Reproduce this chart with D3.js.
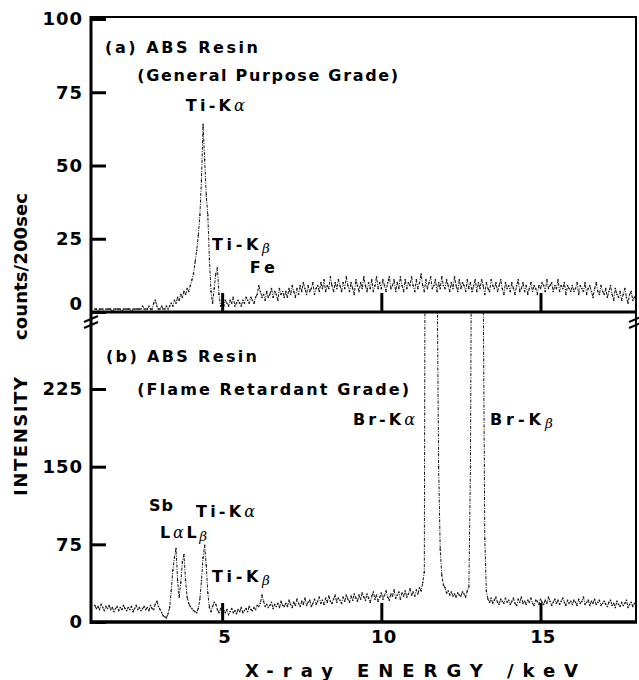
<!DOCTYPE html>
<html>
<head>
<meta charset="utf-8">
<script src="https://cdn.jsdelivr.net/npm/d3@7"></script>
<style>
  body { margin: 0; background: #fff; }
  svg { display: block; font-family: "DejaVu Sans", "Liberation Sans", Arial, sans-serif; font-weight: bold; }
</style>
</head>
<body>
<svg id="chart" width="639" height="680"></svg>
<script>
// spectra are recorded per channel, 0.05 keV wide, first channel at 1.0 keV
const energyStart = 1.0;
const energyStep = 0.05;

// (a) general purpose grade, counts/200sec
const countsA = [
  1,1,0,1,1,1,0,1,1,1, 1,0,1,1,1,1,1,0,1,1,
  1,1,1,0,1,1,1,1,1,1, 2,1,1,1,2,1,1,3,4,2,
  1,1,2,1,1,2,1,2,3,2, 4,3,5,4,6,5,7,6,8,7,
  9,11,13,17,21,26,33,45,64,52, 40,33,18,7,3,8,13,15,6,2,
  3,2,4,3,2,4,3,5,2,3, 4,3,2,4,3,5,4,3,5,4,
  3,5,6,9,7,5,6,4,7,5, 6,8,5,7,6,4,8,6,7,5,
  7,5,8,6,9,7,5,8,6,9, 7,10,8,6,9,7,8,10,6,8,
  9,7,10,8,11,7,9,8,12,9, 7,10,8,11,9,7,10,8,12,9,
  7,10,8,6,11,9,7,10,8,12, 9,7,10,8,11,7,9,12,8,10,
  8,11,9,7,10,12,8,9,11,7, 10,8,12,9,7,11,8,10,9,12,
  9,7,11,8,10,13,9,7,11,8, 10,12,8,9,11,7,10,8,12,9,
  8,11,9,7,10,8,12,9,7,11, 8,10,9,7,11,8,10,7,9,11,
  7,10,8,11,9,6,10,8,7,11, 9,8,10,7,9,11,8,6,10,8,
  9,7,10,8,6,9,11,7,8,10, 7,9,6,8,10,7,9,8,6,9,
  8,10,9,7,11,8,9,10,7,9, 8,11,7,9,8,10,6,9,8,7,
  9,7,8,10,6,9,8,7,10,6, 8,9,7,5,8,10,7,6,9,7,
  6,8,5,7,9,6,4,8,6,5, 7,4,6,8,5,3,6,7,4,5,
  6
];

// (b) flame retardant grade, counts/200sec (Br peaks run off scale)
const countsB = [
  16,13,15,12,17,14,11,15,13,16, 12,14,10,13,15,11,14,12,16,13,
  11,14,12,15,10,13,16,12,14,11, 13,15,12,14,11,16,13,12,17,20,
  15,12,9,6,5,4,8,14,30,50, 62,71,40,24,38,58,65,40,24,18,
  15,13,11,10,9,13,22,40,62,74, 55,28,14,10,15,19,17,12,9,13,
  8,11,9,12,7,10,13,9,11,8, 12,10,14,9,11,13,10,15,12,11,
  14,12,16,15,18,26,20,15,17,14, 16,19,13,17,15,18,14,20,16,15,
  18,15,21,17,14,19,16,22,18,15, 20,17,23,16,19,21,15,18,22,17,
  20,24,18,21,17,23,19,25,20,18, 22,26,19,23,21,18,24,20,26,22,
  19,25,21,27,23,20,26,22,28,24, 21,27,23,19,25,29,22,26,20,24,
  28,22,26,30,24,21,27,25,31,23, 26,29,22,28,25,30,24,27,32,26,
  29,25,31,27,33,30,38,48,700,1500, 1800,1700,1300,900,600,350,150,70,45,36,
  33,28,30,26,29,25,27,24,28,26, 25,29,27,24,30,34,150,500,900,1100,
  1000,800,600,420,330,80,30,22,19,23, 18,21,24,19,17,22,20,18,23,19,
  21,17,20,23,18,16,22,19,24,18, 20,17,21,19,23,18,16,21,20,17,
  22,19,17,21,18,24,20,16,19,22, 18,21,17,20,23,19,16,21,18,20,
  17,21,19,16,22,18,20,24,17,19, 21,16,20,18,22,17,19,21,16,18,
  20,17,15,19,21,16,18,14,20,17, 15,19,16,18,21,14,17,19,15,18,
  16
];

const ticksA = [0, 25, 50, 75, 100];
const ticksB = [0, 75, 150, 225];
const energyTicks = [5, 10, 15];

const svg = d3.select('#chart');

const left = 91, right = 636;
const x = d3.scaleLinear().domain([0.88, 18.0]).range([left, right]);
const yA = d3.scaleLinear().domain([0, 100]).range([312, 19]);
const yB = d3.scaleLinear().domain([0, 225]).range([622, 389]);

const toPoints = counts => counts.map((c, i) => ({ e: energyStart + i * energyStep, c }));

// clip regions for the two panels
const defs = svg.append('defs');
defs.append('clipPath').attr('id', 'clipA').append('rect')
  .attr('x', left).attr('y', 17).attr('width', right - left).attr('height', 312 - 17);
defs.append('clipPath').attr('id', 'clipB').append('rect')
  .attr('x', left).attr('y', 313).attr('width', right - left).attr('height', 622 - 313);

function drawSpectrum(points, yScale, clipId) {
  const g = svg.append('g').attr('clip-path', `url(#${clipId})`);
  const line = d3.line().x(d => x(d.e)).y(d => yScale(d.c));
  g.append('path')
    .datum(points)
    .attr('fill', 'none')
    .attr('stroke', '#111')
    .attr('stroke-width', 1)
    .attr('stroke-dasharray', '3,1.3,1,1.3')
    .attr('d', line);
  g.selectAll('rect.pt')
    .data(points)
    .join('rect')
    .attr('class', 'pt')
    .attr('x', d => x(d.e) - 0.7)
    .attr('y', d => yScale(d.c) - 0.7)
    .attr('width', 1.4)
    .attr('height', 1.4)
    .attr('fill', '#111');
}

drawSpectrum(toPoints(countsA), yA, 'clipA');
drawSpectrum(toPoints(countsB), yB, 'clipB');

// axes
function styleAxis(g, size, spacing) {
  g.select('.domain').remove();
  g.selectAll('.tick line').attr('stroke', '#000').attr('stroke-width', 3);
  g.selectAll('.tick text')
    .attr('fill', '#000')
    .style('font-family', '"DejaVu Sans", "Liberation Sans", Arial, sans-serif')
    .style('font-weight', 'bold')
    .style('font-size', size + 'px')
    .style('letter-spacing', spacing + 'px');
}

const axA = svg.append('g').attr('transform', `translate(${left},0)`)
  .call(d3.axisLeft(yA).tickValues(ticksA).tickSizeInner(-15).tickSizeOuter(0).tickPadding(8));
styleAxis(axA, 18, 1);
axA.selectAll('.tick').filter(d => d === 0).select('text').attr('dy', '-0.12em');

const axB = svg.append('g').attr('transform', `translate(${left},0)`)
  .call(d3.axisLeft(yB).tickValues(ticksB).tickSizeInner(-15).tickSizeOuter(0).tickPadding(8));
styleAxis(axB, 18, 1);

const axXA = svg.append('g').attr('transform', 'translate(0,312)')
  .call(d3.axisBottom(x).tickValues(energyTicks).tickSizeInner(-19).tickSizeOuter(0).tickFormat(''));
styleAxis(axXA, 18, 0);

const axXB = svg.append('g').attr('transform', 'translate(0,622)')
  .call(d3.axisBottom(x).tickValues(energyTicks).tickSizeInner(-19).tickSizeOuter(0).tickPadding(8));
styleAxis(axXB, 18, 0);
axXB.selectAll('.tick text').attr('dx', '0.1em');

// frame
const frame = svg.append('g').attr('stroke', '#000').attr('fill', 'none');
frame.append('line').attr('x1', left).attr('y1', 16).attr('x2', left).attr('y2', 624).attr('stroke-width', 3);
frame.append('line').attr('x1', left).attr('y1', 17).attr('x2', right + 1).attr('y2', 17).attr('stroke-width', 2);
frame.append('line').attr('x1', right).attr('y1', 17).attr('x2', right).attr('y2', 622).attr('stroke-width', 2);
frame.append('line').attr('x1', left).attr('y1', yA(0)).attr('x2', right + 1).attr('y2', yA(0)).attr('stroke-width', 3);
frame.append('line').attr('x1', left).attr('y1', yB(0)).attr('x2', right + 1).attr('y2', yB(0)).attr('stroke-width', 3.5);

// axis break marks between the panels
[left, right].forEach(bx => {
  [-3, 3].forEach(off => {
    frame.append('line')
      .attr('x1', bx - 7).attr('y1', 322 + off + 3)
      .attr('x2', bx + 7).attr('y2', 322 + off - 3)
      .attr('stroke-width', 2);
  });
});

// text helpers
function note(px, py, parts, len, size = 16) {
  const t = svg.append('text')
    .attr('x', px).attr('y', py)
    .attr('fill', '#000')
    .style('font-size', size + 'px');
  if (len) t.attr('textLength', len).attr('lengthAdjust', 'spacing');
  parts.forEach(p => {
    const s = t.append('tspan').text(p.t);
    if (p.greek) {
      s.style('font-style', 'italic').style('font-weight', 'normal')
        .style('font-family', '"DejaVu Serif", serif');
    }
    if (p.sub) s.style('font-size', (size * 0.85) + 'px').attr('dy', 3);
  });
  return t;
}

const alpha = { t: 'α', greek: true };
const beta = { t: 'β', greek: true, sub: true };

// panel (a)
note(x(1.32), yA(88.4), [{ t: '(a) ABS Resin' }], 153);
note(x(2.33), yA(78.8), [{ t: '(General Purpose Grade)' }], 261);
note(x(3.86), yA(68.6), [{ t: 'Ti-K' }, alpha], 59);
note(x(4.68), yA(21.2), [{ t: 'Ti-K' }, beta], 58);
note(x(5.87), yA(13.3), [{ t: 'Fe' }], 25);

// panel (b)
note(x(1.35), yB(251), [{ t: '(b) ABS Resin' }], 151);
note(x(2.33), yB(219), [{ t: '(Flame Retardant Grade)' }], 272);
note(x(9.11), yB(190), [{ t: 'Br-K' }, alpha], 62);
note(x(13.41), yB(190), [{ t: 'Br-K' }, beta], 63);
note(x(2.70), yB(107), [{ t: 'Sb' }], 24);
note(x(3.05), yB(81), [{ t: 'L' }, alpha, { t: 'L' }, { t: 'β', greek: true, sub: true }], 47);
note(x(4.18), yB(101), [{ t: 'Ti-K' }, alpha], 59);
note(x(4.68), yB(38.6), [{ t: 'Ti-K' }, beta], 58);

// axis titles
svg.append('text')
  .attr('x', 245).attr('y', 677)
  .attr('fill', '#000')
  .style('font-size', '18px')
  .attr('textLength', 333).attr('lengthAdjust', 'spacing')
  .text('X-ray ENERGY  /keV');

svg.append('text')
  .attr('transform', 'translate(27,496) rotate(-90)')
  .attr('fill', '#000')
  .style('font-size', '18px')
  .attr('textLength', 119).attr('lengthAdjust', 'spacing')
  .text('INTENSITY');

svg.append('text')
  .attr('transform', 'translate(27,340) rotate(-90)')
  .attr('fill', '#000')
  .style('font-size', '18px')
  .attr('textLength', 147).attr('lengthAdjust', 'spacing')
  .text('counts/200sec');
</script>
</body>
</html>
